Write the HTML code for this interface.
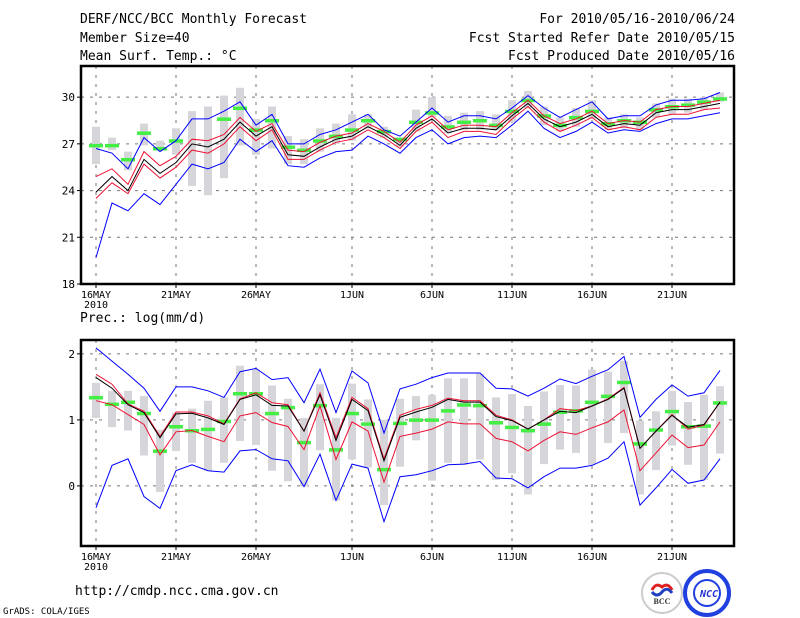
<!DOCTYPE html>
<html><head><meta charset="utf-8"><style>
body{margin:0;background:#fff;}
svg{display:block;font-family:"DejaVu Sans Mono","Liberation Mono",monospace;}
</style></head><body>
<svg id="c" width="800" height="618" xmlns="http://www.w3.org/2000/svg">
<g font-size="13" fill="#000">
<text x="80" y="23">DERF/NCC/BCC Monthly Forecast</text>
<text x="80" y="42">Member Size=40</text>
<text x="80" y="60">Mean Surf. Temp.: °C</text>
<text x="735" y="23" text-anchor="end">For 2010/05/16-2010/06/24</text>
<text x="735" y="42" text-anchor="end">Fcst Started Refer Date 2010/05/15</text>
<text x="735" y="60" text-anchor="end">Fcst Produced Date 2010/05/16</text>
<text x="80" y="322">Prec.: log(mm/d)</text>
<text x="75" y="595">http://cmdp.ncc.cma.gov.cn</text>
<text x="3" y="614" font-size="9">GrADS: COLA/IGES</text>
</g>
<g>
<circle cx="662" cy="593" r="20" fill="#fff" stroke="#ccc" stroke-width="2"/>
<path d="M652 590 q4 -8 10 -3 q6 -5 10 3" stroke="#e02020" stroke-width="3" fill="none"/>
<path d="M652 592 q5 6 10 0 q5 -6 10 1" stroke="#2040c0" stroke-width="3" fill="none"/>
<text x="662" y="604" font-size="8" text-anchor="middle" font-family="Liberation Serif,serif" font-weight="bold" fill="#333">BCC</text>
</g>
<g>
<circle cx="707" cy="593" r="22" fill="none" stroke="#2040e0" stroke-width="4"/>
<circle cx="707" cy="593" r="13" fill="none" stroke="#2040e0" stroke-width="2"/>
<text x="709" y="597" font-size="10" text-anchor="middle" font-weight="bold" font-style="italic" fill="#2030d0">NCC</text>
</g>
</svg>
<script>
// ---------- data ----------
const dayLabels = ["16MAY","21MAY","26MAY","1JUN","6JUN","11JUN","16JUN","21JUN"];
const dayLabelIdx = [0,5,10,16,21,26,31,36];
const tTicks = [18,21,24,27,30];
const pTicks = [0,1,2];
// temperature
const tBlack = [23.9,24.9,24.0,26.0,25.1,25.8,27.0,26.8,27.3,28.4,27.5,28.1,26.3,26.2,26.8,27.3,27.5,28.1,27.6,26.9,28.0,28.6,27.7,28.0,28.0,27.9,28.8,29.6,28.6,28.1,28.4,28.9,28.1,28.3,28.2,29.0,29.2,29.2,29.4,29.6];
const tRedHi = [24.9,25.4,24.4,26.5,25.6,26.2,27.3,27.2,27.6,28.7,27.8,28.3,26.6,26.5,27.1,27.5,27.7,28.3,27.8,27.1,28.2,28.8,27.9,28.2,28.2,28.1,29.0,29.8,28.8,28.3,28.6,29.1,28.3,28.5,28.4,29.2,29.4,29.4,29.6,29.8];
const tRedLo = [23.5,24.5,23.8,25.7,24.8,25.5,26.6,26.4,27.0,28.1,27.2,27.9,26.0,26.0,26.6,27.1,27.3,27.9,27.4,26.7,27.8,28.4,27.4,27.8,27.8,27.6,28.6,29.4,28.4,27.8,28.2,28.7,27.9,28.1,27.9,28.7,28.9,28.9,29.2,29.3];
const tBlueHi = [26.7,26.4,25.4,27.4,26.5,27.2,28.6,28.6,29.1,29.7,28.2,28.9,27.0,27.0,27.6,27.9,28.4,28.9,27.9,27.5,28.4,29.3,28.4,28.8,28.8,28.6,29.3,30.1,29.3,28.7,29.2,29.7,28.6,28.8,28.8,29.5,29.8,29.8,29.9,30.3];
const tBlueLo = [19.7,23.2,22.7,23.8,23.1,24.4,25.7,25.4,25.8,27.3,26.5,27.2,25.6,25.5,26.1,26.5,26.6,27.5,27.0,26.4,27.4,27.9,27.0,27.4,27.5,27.4,28.2,29.1,28.0,27.4,27.8,28.4,27.7,27.9,27.8,28.3,28.6,28.6,28.8,29.0];
const tGreen = [26.9,26.9,26.0,27.7,26.7,27.2,null,null,28.6,29.3,27.9,28.5,26.8,26.6,27.2,27.5,27.9,28.5,27.8,27.3,28.4,29.0,28.1,28.4,28.5,28.2,29.1,29.8,28.8,28.2,28.7,29.1,28.3,28.5,28.4,29.2,29.4,29.5,29.7,29.9];
const tBoxHi = [28.1,27.4,26.5,28.3,27.2,28.0,29.1,29.4,30.1,30.6,28.6,29.4,27.5,27.3,28.0,28.3,28.9,28.9,28.1,27.4,29.2,30.0,28.8,29.0,29.1,28.9,29.8,30.4,29.4,28.7,29.3,29.8,28.7,28.9,28.7,29.6,29.9,29.9,30.0,30.3];
const tBoxLo = [25.7,26.6,25.3,26.9,26.7,26.3,24.3,23.7,24.8,26.9,26.3,26.7,25.7,25.7,26.5,27.0,27.2,28.0,27.4,26.8,27.8,28.7,27.7,27.9,27.9,27.9,28.4,29.3,28.2,27.8,28.1,28.6,27.9,28.0,27.9,28.7,28.9,29.0,29.2,29.7];
// precipitation
const pBlack = [1.64,1.48,1.23,1.11,0.73,1.09,1.10,1.03,0.93,1.31,1.38,1.22,1.21,0.83,1.38,0.69,1.31,1.14,0.38,1.04,1.12,1.19,1.31,1.27,1.27,1.05,0.99,0.86,1.00,1.13,1.11,1.21,1.31,1.48,0.57,0.83,1.07,0.89,0.93,1.27];
const pRedHi = [1.69,1.54,1.24,1.13,0.75,1.12,1.12,1.06,0.94,1.32,1.41,1.26,1.23,0.83,1.41,0.73,1.34,1.17,0.41,1.07,1.16,1.22,1.33,1.29,1.29,1.07,1.00,0.86,1.00,1.17,1.14,1.21,1.32,1.49,0.57,0.83,1.08,0.86,0.92,1.27];
const pRedLo = [1.29,1.23,1.08,0.93,0.47,0.82,0.84,0.75,0.67,1.06,1.11,0.96,0.90,0.55,1.21,0.40,0.97,0.83,0.06,0.75,0.80,0.86,0.97,0.94,0.94,0.72,0.67,0.53,0.69,0.82,0.78,0.88,0.97,1.15,0.23,0.50,0.77,0.58,0.62,0.97];
const pBlueHi = [2.09,1.89,1.69,1.48,1.13,1.50,1.50,1.44,1.34,1.73,1.78,1.61,1.64,1.26,1.77,1.11,1.74,1.56,0.80,1.47,1.54,1.64,1.71,1.71,1.71,1.48,1.47,1.36,1.48,1.62,1.55,1.66,1.76,1.96,1.04,1.31,1.53,1.36,1.41,1.75];
const pBlueLo = [-0.33,0.31,0.41,-0.16,-0.34,0.23,0.32,0.23,0.21,0.53,0.55,0.41,0.38,-0.01,0.48,-0.22,0.33,0.27,-0.54,0.14,0.17,0.23,0.32,0.33,0.37,0.12,0.11,-0.03,0.14,0.27,0.27,0.31,0.42,0.67,-0.29,-0.03,0.25,0.04,0.09,0.41];
const pGreen = [1.34,1.24,1.27,1.10,0.53,0.90,0.84,0.86,0.98,1.40,1.40,1.10,1.19,0.66,1.22,0.55,1.10,0.94,0.25,0.95,1.00,1.00,1.14,1.23,1.22,0.96,0.89,0.84,0.94,1.12,1.14,1.27,1.36,1.57,0.64,0.85,1.13,0.90,0.91,1.26];
const pBoxHi = [1.56,1.44,1.44,1.36,0.85,1.11,1.17,1.29,1.34,1.82,1.76,1.52,1.32,1.03,1.54,1.03,1.55,1.31,1.00,1.32,1.36,1.38,1.63,1.63,1.70,1.34,1.39,1.21,1.43,1.53,1.52,1.76,1.73,1.89,0.99,1.13,1.44,1.27,1.38,1.51];
const pBoxLo = [1.03,0.89,0.84,0.46,-0.09,0.53,0.35,0.23,0.35,0.68,0.62,0.23,0.07,-0.01,0.54,-0.22,0.40,0.28,-0.29,0.29,0.69,0.08,0.35,0.32,0.40,0.09,0.19,-0.13,0.33,0.55,0.50,0.32,0.65,0.80,-0.13,0.24,0.61,0.32,0.09,0.49];

// ---------- drawing ----------
const NS = "http://www.w3.org/2000/svg";
const svg = document.getElementById('c');
function mk(tag, attrs, parent){ const e=document.createElementNS(NS,tag); for(const k in attrs) e.setAttribute(k,attrs[k]); (parent||svg).appendChild(e); return e; }
const xOf = i => 96 + 16*i;

function panel(name, top, bottom, vmin, vmax, ticks, gridVals, s){
  const L=81, R=734;
  const y = v => bottom - (v - vmin)/(vmax - vmin)*(bottom - top);
  const g = mk('g',{});
  
  
  gridVals.forEach(v=>{ const l=mk('line',{x1:L,x2:R,y1:y(v),y2:y(v),stroke:'#777','stroke-dasharray':'3,6','stroke-width':1},g);
      });
  dayLabelIdx.forEach(i=>{ const l=mk('line',{x1:xOf(i),x2:xOf(i),y1:top,y2:bottom,stroke:'#777','stroke-dasharray':'3,6','stroke-width':1},g);
      });
  s.boxHi.forEach((hi,i)=>{ const lo=s.boxLo[i]; const r=mk('rect',{x:xOf(i)-4,y:y(hi),width:8,height:y(lo)-y(hi),fill:'#d6d6da'},g);
      });
  s.green.forEach((v,i)=>{ if(v===null) return; const r=mk('rect',{x:xOf(i)-7,y:y(v)-1.5,width:14,height:3.5,fill:'#44ee44'},g);
      });
  const lines=[[s.blueHi,'#0000ff','upper-bound-line'],[s.blueLo,'#0000ff','lower-bound-line'],[s.redHi,'#ee1133','upper-red-line'],[s.redLo,'#ee1133','lower-red-line'],[s.black,'#000','ensemble-mean-line']];
  lines.forEach(([arr,col,nm])=>{ const p=mk('polyline',{points:arr.map((v,i)=>xOf(i)+','+y(v).toFixed(1)).join(' '),fill:'none',stroke:col,'stroke-width':1},g);
      });
  const f=mk('rect',{x:L,y:top,width:R-L,height:bottom-top,fill:'none',stroke:'#000','stroke-width':2.5},g);
   
  ticks.forEach(v=>{ const t=mk('text',{x:75,y:y(v)+4,'text-anchor':'end','font-size':11},g); t.textContent=v;
     
    const tk=mk('line',{x1:L-4,x2:L,y1:y(v),y2:y(v),stroke:'#000'},g);
      });
  dayLabelIdx.forEach((i,k)=>{ const tk=mk('line',{x1:xOf(i),x2:xOf(i),y1:bottom,y2:bottom+4,stroke:'#000'},g);
     
    const t=mk('text',{x:xOf(i),y:bottom+14,'text-anchor':'middle','font-size':10},g); t.textContent=dayLabels[k];
      });
  const yr=mk('text',{x:xOf(0),y:bottom+24,'text-anchor':'middle','font-size':10},g); yr.textContent='2010';
   
}
panel('temperature-panel',66,284,18,32.0,tTicks,[21,24,27,30],
  {black:tBlack,redHi:tRedHi,redLo:tRedLo,blueHi:tBlueHi,blueLo:tBlueLo,green:tGreen,boxHi:tBoxHi,boxLo:tBoxLo});
panel('precipitation-panel',340,546,-0.91,2.21,pTicks,[0,1,2],
  {black:pBlack,redHi:pRedHi,redLo:pRedLo,blueHi:pBlueHi,blueLo:pBlueLo,green:pGreen,boxHi:pBoxHi,boxLo:pBoxLo});
</script>
</body></html>
